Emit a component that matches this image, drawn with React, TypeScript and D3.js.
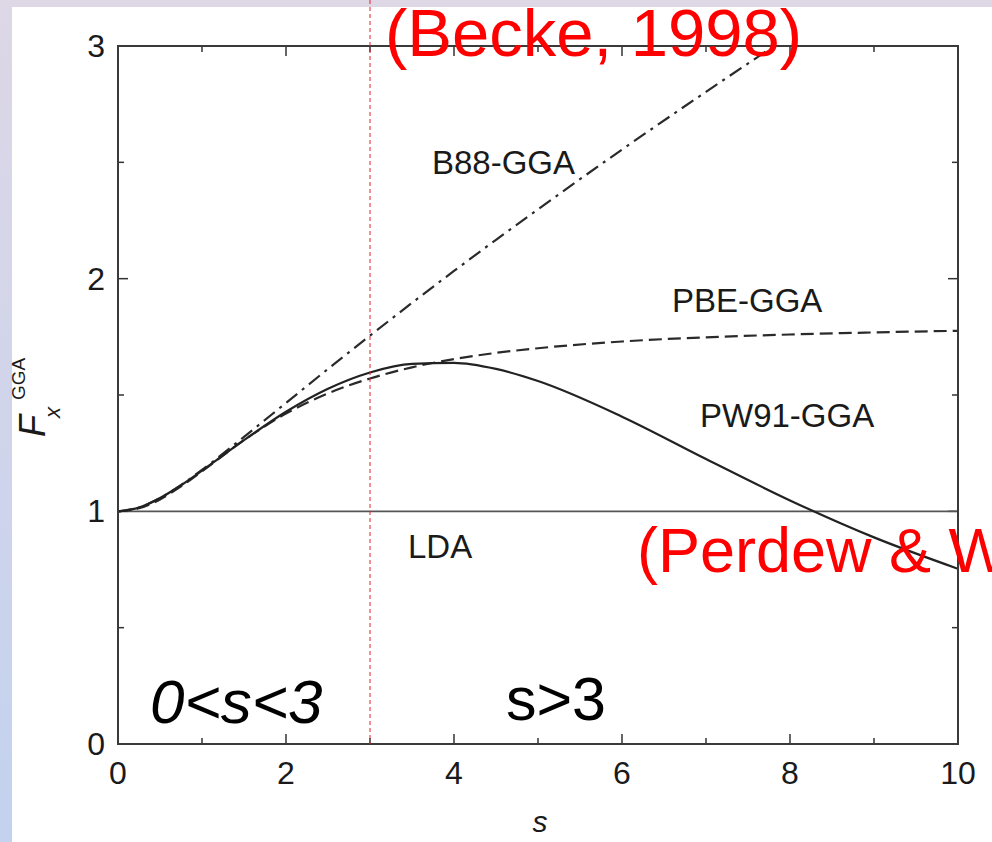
import React, { useEffect, useRef } from 'react';
import * as d3 from 'd3';

// reduced gradient s and enhancement factor values
const sValues = [0, 0.25, 0.5, 0.75, 1, 1.5, 2, 2.5, 3, 3.5, 4, 4.5, 5, 6, 7, 8, 9, 10];
const b88Values = [1, 1.016, 1.057, 1.113, 1.178, 1.32, 1.466, 1.612, 1.755, 1.896, 2.033, 2.167, 2.298, 2.555, 2.803, 3.045, 3.28, 3.51];
const pbeValues = [1, 1.013, 1.051, 1.107, 1.172, 1.306, 1.42, 1.507, 1.571, 1.619, 1.654, 1.681, 1.701, 1.73, 1.748, 1.76, 1.769, 1.776];
const pw91Values = [1, 1.016, 1.057, 1.112, 1.175, 1.306, 1.428, 1.527, 1.597, 1.634, 1.638, 1.612, 1.56, 1.407, 1.225, 1.047, 0.888, 0.753];
const ldaS = [0, 10];
const ldaValues = [1, 1];
const xTickLabels = [0, 2, 4, 6, 8, 10];
const yTickLabels = [0, 1, 2, 3];
const curveNames = ['B88-GGA', 'PBE-GGA', 'PW91-GGA', 'LDA'];

const FONT = '"Liberation Sans", Arial, Helvetica, sans-serif';

export default function App() {
  const ref = useRef<SVGSVGElement>(null);

  useEffect(() => {
    const width = 992;
    const height = 842;
    const left = 118, right = 958, top = 46, bottom = 744;
    const svg = d3.select(ref.current);
    svg.selectAll('*').remove();

    // slide background bands
    const defs = svg.append('defs');
    const grad = defs.append('linearGradient').attr('id', 'leftBand')
      .attr('x1', 0).attr('y1', 0).attr('x2', 0).attr('y2', 1);
    grad.append('stop').attr('offset', '0%').attr('stop-color', '#ddd7e6');
    grad.append('stop').attr('offset', '100%').attr('stop-color', '#c3d2ef');
    defs.append('clipPath').attr('id', 'plotClip').append('rect')
      .attr('x', left).attr('y', top).attr('width', right - left).attr('height', bottom - top);

    svg.append('rect').attr('width', width).attr('height', height).attr('fill', '#fff');
    svg.append('rect').attr('width', width).attr('height', 7).attr('fill', '#ddd7e6');
    svg.append('rect').attr('width', 12).attr('height', height).attr('fill', 'url(#leftBand)');

    const x = d3.scaleLinear().domain([0, 10]).range([left, right]);
    const y = d3.scaleLinear().domain([0, 3]).range([bottom, top]);

    const g = svg.append('g');

    // ticks, all pointing inward on four sides
    const xTicks = d3.range(0, 11, 1);
    const yTicks = d3.range(0, 3.01, 0.5);
    xTicks.forEach(function (t) {
      const len = t % 2 === 0 ? 10 : 6;
      g.append('line').attr('x1', x(t)).attr('x2', x(t)).attr('y1', bottom).attr('y2', bottom - len)
        .attr('stroke', '#333').attr('stroke-width', 1.5);
      g.append('line').attr('x1', x(t)).attr('x2', x(t)).attr('y1', top).attr('y2', top + len)
        .attr('stroke', '#333').attr('stroke-width', 1.5);
    });
    yTicks.forEach(function (t) {
      const len = t % 1 === 0 ? 10 : 6;
      g.append('line').attr('y1', y(t)).attr('y2', y(t)).attr('x1', left).attr('x2', left + len)
        .attr('stroke', '#333').attr('stroke-width', 1.5);
      g.append('line').attr('y1', y(t)).attr('y2', y(t)).attr('x1', right).attr('x2', right - len)
        .attr('stroke', '#333').attr('stroke-width', 1.5);
    });

    // tick labels
    g.selectAll('text.xl').data(xTickLabels).enter().append('text')
      .attr('class', 'xl')
      .attr('x', function (d) { return x(d); })
      .attr('y', 784)
      .attr('text-anchor', 'middle')
      .attr('font-family', FONT).attr('font-size', 32).attr('fill', '#1a1a1a')
      .text(function (d) { return d; });
    g.selectAll('text.yl').data(yTickLabels).enter().append('text')
      .attr('class', 'yl')
      .attr('x', 105)
      .attr('y', function (d) { return y(d) + 11; })
      .attr('text-anchor', 'end')
      .attr('font-family', FONT).attr('font-size', 32).attr('fill', '#1a1a1a')
      .text(function (d) { return d; });

    // axis titles
    g.append('text').attr('x', 540).attr('y', 832).attr('text-anchor', 'middle')
      .attr('font-family', FONT).attr('font-size', 30).attr('font-style', 'italic').attr('fill', '#1a1a1a')
      .text('s');
    const yTitle = g.append('text').attr('transform', 'translate(45,437) rotate(-90)')
      .attr('font-family', FONT).attr('fill', '#1a1a1a');
    yTitle.append('tspan').attr('x', 0).attr('y', 0).attr('font-size', 36).attr('font-style', 'italic').text('F');
    yTitle.append('tspan').attr('x', 19).attr('y', 15).attr('font-size', 22).attr('font-style', 'italic').text('x');
    yTitle.append('tspan').attr('x', 37).attr('y', -20).attr('font-size', 19).text('GGA');

    // curves
    const line = d3.line<[number, number]>()
      .x(function (d) { return x(d[0]); })
      .y(function (d) { return y(d[1]); })
      .curve(d3.curveMonotoneX);
    const plot = g.append('g').attr('clip-path', 'url(#plotClip)');
    const series = [
      { s: ldaS, v: ldaValues, dash: null, color: '#555', w: 1.7 },
      { s: sValues, v: b88Values, dash: '14,6,3,6', color: '#2a2a2a', w: 2.2 },
      { s: sValues, v: pbeValues, dash: '13,6', color: '#2a2a2a', w: 2.2 },
      { s: sValues, v: pw91Values, dash: null, color: '#222', w: 2.2 }
    ];
    series.forEach(function (c) {
      const pts = c.s.map(function (s, i) { return [s, c.v[i]] as [number, number]; });
      plot.append('path').attr('d', line(pts))
        .attr('fill', 'none')
        .attr('stroke', c.color)
        .attr('stroke-width', c.w)
        .attr('stroke-dasharray', c.dash);
    });

    // frame
    g.append('rect').attr('x', left).attr('y', top).attr('width', right - left).attr('height', bottom - top)
      .attr('fill', 'none').attr('stroke', '#3a3a3a').attr('stroke-width', 2);

    // curve labels
    const labelPos = [[432, 174], [672, 312], [700, 427], [408, 558]];
    g.selectAll('text.cl').data(curveNames).enter().append('text')
      .attr('class', 'cl')
      .attr('x', function (d, i) { return labelPos[i][0]; })
      .attr('y', function (d, i) { return labelPos[i][1]; })
      .attr('font-family', FONT).attr('font-size', 33).attr('fill', '#1a1a1a')
      .text(function (d) { return d; });

    // slide annotations
    svg.append('line').attr('x1', x(3)).attr('x2', x(3)).attr('y1', 0).attr('y2', bottom)
      .attr('stroke', '#e8202a').attr('stroke-width', 1).attr('stroke-dasharray', '4,3');
    svg.append('text').attr('x', 385).attr('y', 56)
      .attr('font-family', FONT).attr('font-size', 67).attr('fill', '#ff0000')
      .text('(Becke, 1998)');
    svg.append('text').attr('x', 637).attr('y', 572)
      .attr('font-family', FONT).attr('font-size', 63).attr('fill', '#ff0000')
      .text('(Perdew & Wang, 1991)');
    svg.append('text').attr('x', 150).attr('y', 723)
      .attr('font-family', FONT).attr('font-size', 62).attr('font-style', 'italic').attr('fill', '#000')
      .text('0<s<3');
    svg.append('text').attr('x', 506).attr('y', 720)
      .attr('font-family', FONT).attr('font-size', 61).attr('fill', '#000')
      .text('s>3');
  }, []);

  return (
    <div style={{ position: 'absolute', left: 0, top: 0, width: 992, height: 842, overflow: 'hidden' }}>
      <svg ref={ref} width={992} height={842} style={{ display: 'block' }}></svg>
    </div>
  );
}
